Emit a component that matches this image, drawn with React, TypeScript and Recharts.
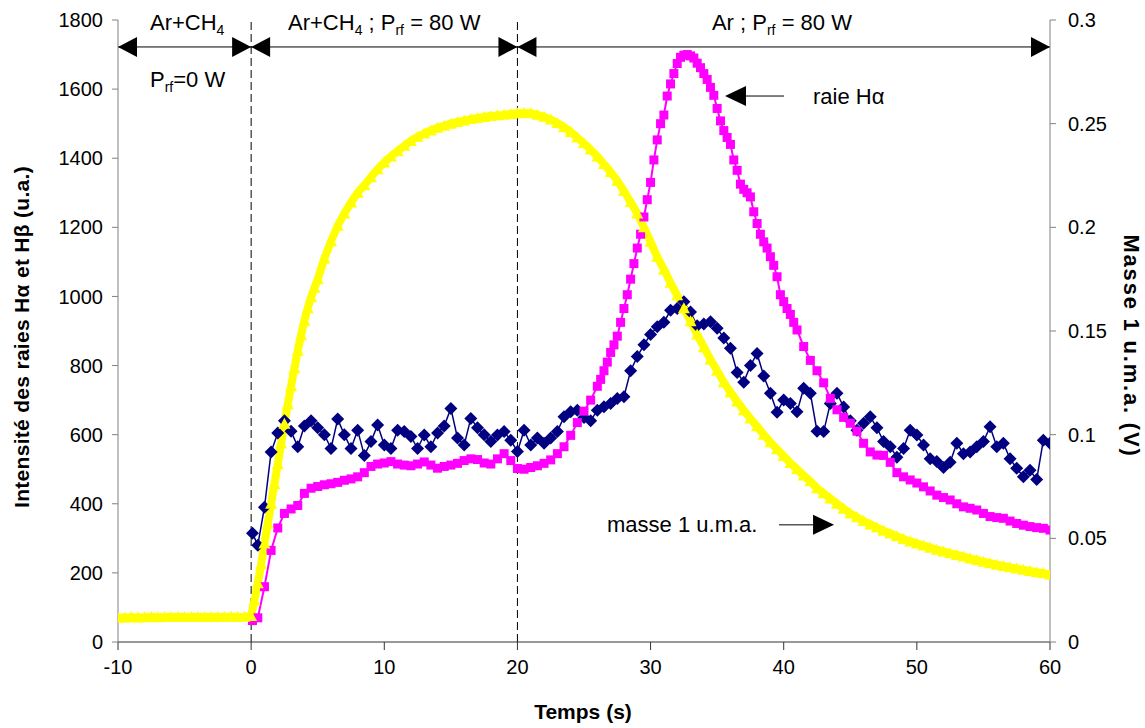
import React from 'react';
import { LineChart, Line, XAxis, YAxis, ReferenceLine, ReferenceDot, Customized } from 'recharts';

// masse 1 u.m.a. (V), axe de droite
const timeMasse = [
  -10, -9.5, -9, -8.5, -8, -7.5, -7, -6.5, -6, -5.5, -5, -4.5, -4, -3.5, -3, -2.5, -2, -1.5, -1, -0.5, 0,
  0.25, 0.5, 0.75, 1, 1.25, 1.5, 1.75, 2, 2.25, 2.5, 2.75, 3, 3.25, 3.5, 3.75, 4, 4.25, 4.5, 4.75, 5,
  5.5, 6, 6.5, 7, 7.5, 8, 8.5, 9, 9.5, 10, 10.5, 11, 11.5, 12, 12.5, 13, 13.5, 14, 14.5, 15,
  15.5, 16, 16.5, 17, 17.5, 18, 18.5, 19, 19.5, 20, 20.5, 21, 21.5, 22, 22.5, 23, 23.5, 24, 24.5, 25,
  25.5, 26, 26.5, 27, 27.5, 28, 28.5, 29, 29.5, 30, 30.5, 31, 31.5, 32, 32.5, 33, 33.5, 34, 34.5, 35,
  35.5, 36, 36.5, 37, 37.5, 38, 38.5, 39, 39.5, 40, 40.5, 41, 41.5, 42, 42.5, 43, 43.5, 44, 44.5, 45,
  45.5, 46, 46.5, 47, 47.5, 48, 48.5, 49, 49.5, 50, 50.5, 51, 51.5, 52, 52.5, 53, 53.5, 54, 54.5, 55,
  55.5, 56, 56.5, 57, 57.5, 58, 58.5, 59, 59.5, 60,
];
const masse = [
  0.0117, 0.0118, 0.0119, 0.0118, 0.0119, 0.012, 0.0119, 0.012, 0.012, 0.0121, 0.012, 0.0121, 0.012, 0.0121, 0.0121, 0.012, 0.0121, 0.0122, 0.0121, 0.0122, 0.0125,
  0.02, 0.0283, 0.0375, 0.0475, 0.057, 0.0667, 0.0762, 0.0858, 0.0957, 0.1053, 0.1147, 0.1233, 0.132, 0.1405, 0.148, 0.155, 0.161, 0.1663, 0.1708, 0.175,
  0.185, 0.1933, 0.2008, 0.2067, 0.212, 0.2167, 0.2203, 0.2242, 0.228, 0.2313, 0.2342, 0.2367, 0.2393, 0.2417, 0.2437, 0.2453, 0.2467, 0.248, 0.249, 0.25,
  0.2508, 0.2515, 0.2522, 0.2527, 0.2532, 0.2537, 0.254, 0.2543, 0.2547, 0.255, 0.2552, 0.255, 0.2543, 0.2533, 0.252, 0.2503, 0.2483, 0.246, 0.2433, 0.2405,
  0.2375, 0.2342, 0.2305, 0.2267, 0.2225, 0.2175, 0.2122, 0.2067, 0.2, 0.193, 0.1858, 0.1797, 0.1733, 0.1672, 0.161, 0.1547, 0.1483, 0.1422, 0.1363, 0.1308,
  0.1253, 0.1205, 0.116, 0.1118, 0.1078, 0.104, 0.1, 0.0963, 0.093, 0.0897, 0.0863, 0.0833, 0.0803, 0.0775, 0.0742, 0.0717, 0.0692, 0.0667, 0.0643, 0.062,
  0.0602, 0.0583, 0.0567, 0.0552, 0.0537, 0.0523, 0.051, 0.0497, 0.0485, 0.0475, 0.0465, 0.0455, 0.0445, 0.0437, 0.0428, 0.042, 0.0412, 0.0403, 0.0395, 0.0387,
  0.038, 0.0373, 0.0367, 0.036, 0.0355, 0.0348, 0.0343, 0.0337, 0.0332, 0.0325,
];

// raie H-alpha (u.a.)
const timeHa = [
  0.1, 0.5, 1, 1.5, 2, 2.5, 3, 3.5, 4, 4.5, 5, 5.5, 6, 6.5, 7, 7.5, 8, 8.5, 9, 9.5, 10,
  10.5, 11, 11.5, 12, 12.5, 13, 13.5, 14, 14.5, 15, 15.5, 16, 16.5, 17, 17.5, 18, 18.5, 19, 19.5, 20,
  20.5, 21, 21.5, 22, 22.5, 23, 23.5, 24, 24.5, 25, 25.5, 26,
  26.25, 26.5, 26.75, 27, 27.25, 27.5, 27.75, 28, 28.25, 28.5, 28.75, 29, 29.25, 29.5, 29.75, 30,
  30.25, 30.5, 30.75, 31, 31.25, 31.5, 31.75, 32, 32.25, 32.5, 32.75, 33, 33.25, 33.5, 33.75, 34,
  34.25, 34.5, 34.75, 35, 35.25, 35.5, 35.75, 36, 36.25, 36.5, 36.75, 37, 37.25, 37.5, 37.75, 38,
  38.25, 38.5, 38.75, 39, 39.25, 39.5, 39.75, 40, 40.25, 40.5, 40.75, 41,
  41.5, 42, 42.5, 43, 43.5, 44, 44.5, 45, 45.5, 46, 46.5, 47, 47.5, 48, 48.5, 49, 49.5, 50,
  50.5, 51, 51.5, 52, 52.5, 53, 53.5, 54, 54.5, 55, 55.5, 56, 56.5, 57, 57.5, 58, 58.5, 59, 59.5, 60,
];
const raieHa = [
  62, 70, 160, 265, 330, 372, 385, 395, 430, 445, 450, 455, 458, 462, 468, 472, 478, 490, 508, 515, 518,
  522, 515, 512, 510, 515, 521, 512, 503, 508, 512, 517, 525, 530, 528, 518, 515, 530, 545, 525, 502,
  500, 505, 510, 517, 527, 545, 565, 598, 635, 668, 700, 740,
  760, 785, 810, 838, 860, 885, 925, 965, 1005, 1050, 1095, 1140, 1180, 1230, 1280, 1330,
  1395, 1453, 1500, 1525, 1580, 1615, 1645, 1674, 1692, 1698, 1700, 1696, 1690, 1675, 1662, 1645,
  1628, 1605, 1582, 1544, 1508, 1480, 1460, 1440, 1395, 1365, 1325, 1310, 1300, 1288, 1245, 1211,
  1180, 1158, 1140, 1115, 1090, 1057, 1005, 985, 965, 948, 925, 903,
  855, 815, 785, 750, 705, 672, 650, 633, 610, 575, 550, 541, 540, 520, 490, 478, 469, 460,
  449, 437, 425, 418, 411, 400, 391, 387, 382, 372, 363, 360, 358, 350, 343, 338, 334, 331, 329, 324,
];

// raie H-beta (u.a.)
const timeHb = [
  0.1, 0.5, 1, 1.5, 2, 2.5, 3, 3.5, 4, 4.5, 5, 5.5, 6, 6.5, 7, 7.5, 8, 8.5, 9, 9.5, 10,
  10.5, 11, 11.5, 12, 12.5, 13, 13.5, 14, 14.5, 15, 15.5, 16, 16.5, 17, 17.5, 18, 18.5, 19, 19.5, 20,
  20.5, 21, 21.5, 22, 22.5, 23, 23.5, 24, 24.5, 25, 25.5, 26, 26.5, 27, 27.5, 28, 28.5, 29, 29.5, 30,
  30.5, 31, 31.5, 32, 32.5, 33, 33.5, 34, 34.5, 35, 35.5, 36, 36.5, 37, 37.5, 38, 38.5, 39, 39.5, 40,
  40.5, 41, 41.5, 42, 42.5, 43, 43.5, 44, 44.5, 45, 45.5, 46, 46.5, 47, 47.5, 48, 48.5, 49, 49.5, 50,
  50.5, 51, 51.5, 52, 52.5, 53, 53.5, 54, 54.5, 55, 55.5, 56, 56.5, 57, 57.5, 58, 58.5, 59, 59.5, 60,
];
const raieHb = [
  315, 280, 390, 550, 605, 640, 610, 565, 625, 640, 620, 600, 560, 645, 600, 560, 613, 540, 580, 628, 570,
  560, 613, 609, 595, 560, 599, 565, 605, 625, 676, 590, 570, 647, 620, 600, 580, 599, 609, 584, 551,
  613, 570, 590, 575, 590, 609, 652, 666, 671, 650, 640, 671, 681, 690, 705, 710, 785, 826, 860, 890,
  912, 925, 960, 965, 985, 955, 915, 920, 927, 908, 880, 850, 780, 752, 800, 835, 770, 720, 665, 700,
  690, 666, 734, 720, 610, 609, 690, 720, 680, 640, 613, 633, 652, 620, 580, 565, 535, 560, 613, 599,
  570, 530, 522, 505, 520, 575, 545, 550, 565, 580, 623, 565, 575, 530, 503, 478, 497, 470, 584, 575,
];

const xTicks = [-10, 0, 10, 20, 30, 40, 50, 60];
const leftTicks = [0, 200, 400, 600, 800, 1000, 1200, 1400, 1600, 1800];
const rightTicks = [0, 0.05, 0.1, 0.15, 0.2, 0.25, 0.3];

const rows = (ts: number[], vs: number[]) => ts.map((t, i) => ({ t, v: vs[i] }));
const masseRows = rows(timeMasse, masse);
const haRows = rows(timeHa, raieHa);
const hbRows = rows(timeHb, raieHb);

const FONT = 'Liberation Sans, Arial, sans-serif';
const tickStyle = { fontSize: 20, fill: '#000', fontFamily: FONT };

const triangleDot = (p: any) => {
  const { cx, cy, index } = p;
  if (cx == null || cy == null) return <g key={`tr${index}`} />;
  return (
    <polygon
      key={`tr${index}`}
      points={`${cx},${cy - 6} ${cx - 6},${cy + 5} ${cx + 6},${cy + 5}`}
      fill="#ffff00"
    />
  );
};

const squareDot = (p: any) => {
  const { cx, cy, index } = p;
  if (cx == null || cy == null) return <g key={`sq${index}`} />;
  return <rect key={`sq${index}`} x={cx - 4.5} y={cy - 4.5} width={9} height={9} fill="#ff00ff" />;
};

const diamondDot = (p: any) => {
  const { cx, cy, index } = p;
  if (cx == null || cy == null) return <g key={`di${index}`} />;
  return (
    <polygon
      key={`di${index}`}
      points={`${cx},${cy - 6.5} ${cx + 6.5},${cy} ${cx},${cy + 6.5} ${cx - 6.5},${cy}`}
      fill="#000080"
    />
  );
};

// arrowhead, tip at (cx, cy)
const head = (dir: 'left' | 'right', len = 19, half = 10) => (p: any) => {
  const { cx, cy } = p;
  const b = dir === 'left' ? cx + len : cx - len;
  return <polygon points={`${cx},${cy} ${b},${cy - half} ${b},${cy + half}`} fill="#000" />;
};

// annotation arrow: head + tail line (tail length in px)
const pointer = (dir: 'left' | 'right', tail: number) => (p: any) => {
  const { cx, cy } = p;
  const s = dir === 'left' ? 1 : -1;
  return (
    <g>
      <polygon points={`${cx},${cy} ${cx + s * 21},${cy - 10} ${cx + s * 21},${cy + 10}`} fill="#000" />
      <line x1={cx + s * 21} y1={cy} x2={cx + s * tail} y2={cy} stroke="#000" strokeWidth={1} />
    </g>
  );
};

const note = (content: React.ReactNode) => (p: any) => (
  <text x={p.cx} y={p.cy} fontSize={22} fontFamily={FONT} fill="#000">
    {content}
  </text>
);

const arCh4 = (
  <>
    <tspan>Ar+CH</tspan>
    <tspan fontSize={14} dy={5}>4</tspan>
  </>
);
const prf0 = (
  <>
    <tspan>P</tspan>
    <tspan fontSize={14} dy={5}>rf</tspan>
    <tspan dy={-5}>=0 W</tspan>
  </>
);
const arCh4Prf = (
  <>
    <tspan>Ar+CH</tspan>
    <tspan fontSize={14} dy={5}>4</tspan>
    <tspan dy={-5}> ; P</tspan>
    <tspan fontSize={14} dy={5}>rf</tspan>
    <tspan dy={-5}> = 80 W</tspan>
  </>
);
const arPrf = (
  <>
    <tspan>Ar ; P</tspan>
    <tspan fontSize={14} dy={5}>rf</tspan>
    <tspan dy={-5}> = 80 W</tspan>
  </>
);

const Titles = () => (
  <g fontFamily={FONT} fontWeight="bold" fill="#000">
    <text x={583} y={719} textAnchor="middle" fontSize={21}>Temps (s)</text>
    <text transform="translate(29,337) rotate(-90)" textAnchor="middle" fontSize={21} letterSpacing={0.3}>
      Intensité des raies Hα et Hβ (u.a.)
    </text>
    <text transform="translate(1124,346) rotate(90)" textAnchor="middle" fontSize={22} letterSpacing={1.8}>
      Masse 1 u.m.a. (V)
    </text>
  </g>
);

export default function App() {
  return (
    <div style={{ position: 'absolute', left: 0, top: 0, width: 1145, height: 728, background: '#fff' }}>
      <LineChart width={1145} height={728} margin={{ top: 20, right: 5, bottom: 26, left: 38 }}>
        <XAxis
          type="number"
          dataKey="t"
          domain={[-10, 60]}
          ticks={xTicks}
          interval={0}
          allowDataOverflow
          height={60}
          tickSize={8}
          tickMargin={10}
          tick={tickStyle}
          axisLine={{ stroke: '#333' }}
          tickLine={{ stroke: '#333' }}
        />
        <YAxis
          yAxisId="left"
          orientation="left"
          domain={[0, 1800]}
          ticks={leftTicks}
          interval={0}
          width={80}
          tickSize={6}
          tickMargin={9}
          tick={tickStyle}
          axisLine={{ stroke: '#808080' }}
          tickLine={{ stroke: '#808080' }}
        />
        <YAxis
          yAxisId="right"
          orientation="right"
          domain={[0, 0.3]}
          ticks={rightTicks}
          interval={0}
          width={90}
          tickSize={6}
          tickMargin={12}
          tick={tickStyle}
          tickFormatter={(v: number) => String(v)}
          axisLine={{ stroke: '#808080' }}
          tickLine={{ stroke: '#808080' }}
        />

        <ReferenceLine yAxisId="left" x={0} stroke="#000" strokeDasharray="8 4" />
        <ReferenceLine yAxisId="left" x={20} stroke="#000" strokeDasharray="8 4" />
        <ReferenceLine yAxisId="left" y={1722} stroke="#000" strokeWidth={1} />

        <Line
          data={hbRows}
          dataKey="v"
          yAxisId="left"
          type="linear"
          stroke="#000080"
          strokeWidth={1.5}
          dot={diamondDot}
          activeDot={false}
          isAnimationActive={false}
        />
        <Line
          data={haRows}
          dataKey="v"
          yAxisId="left"
          type="linear"
          stroke="#ff00ff"
          strokeWidth={2}
          dot={squareDot}
          activeDot={false}
          isAnimationActive={false}
        />
        <Line
          data={masseRows}
          dataKey="v"
          yAxisId="right"
          type="linear"
          stroke="#ffff00"
          strokeWidth={8}
          dot={triangleDot}
          activeDot={false}
          isAnimationActive={false}
        />

        <ReferenceDot yAxisId="left" x={-10} y={1722} r={0} shape={head('left')} />
        <ReferenceDot yAxisId="left" x={0} y={1722} r={0} shape={head('right')} />
        <ReferenceDot yAxisId="left" x={0} y={1722} r={0} shape={head('left')} />
        <ReferenceDot yAxisId="left" x={20} y={1722} r={0} shape={head('right')} />
        <ReferenceDot yAxisId="left" x={20} y={1722} r={0} shape={head('left')} />
        <ReferenceDot yAxisId="left" x={60} y={1722} r={0} shape={head('right')} />

        <ReferenceDot yAxisId="left" x={35.59} y={1580} r={0} shape={pointer('left', 59)} />
        <ReferenceDot yAxisId="left" x={43.78} y={339} r={0} shape={pointer('right', 55)} />

        <ReferenceDot yAxisId="left" x={-7.6} y={1771} r={0} shape={note(arCh4)} />
        <ReferenceDot yAxisId="left" x={-7.6} y={1606} r={0} shape={note(prf0)} />
        <ReferenceDot yAxisId="left" x={2.77} y={1771} r={0} shape={note(arCh4Prf)} />
        <ReferenceDot yAxisId="left" x={34.61} y={1771} r={0} shape={note(arPrf)} />
        <ReferenceDot yAxisId="left" x={42.2} y={1557} r={0} shape={note('raie Hα')} />
        <ReferenceDot yAxisId="left" x={26.73} y={318} r={0} shape={note('masse 1 u.m.a.')} />

        <Customized component={Titles} />
      </LineChart>
    </div>
  );
}
